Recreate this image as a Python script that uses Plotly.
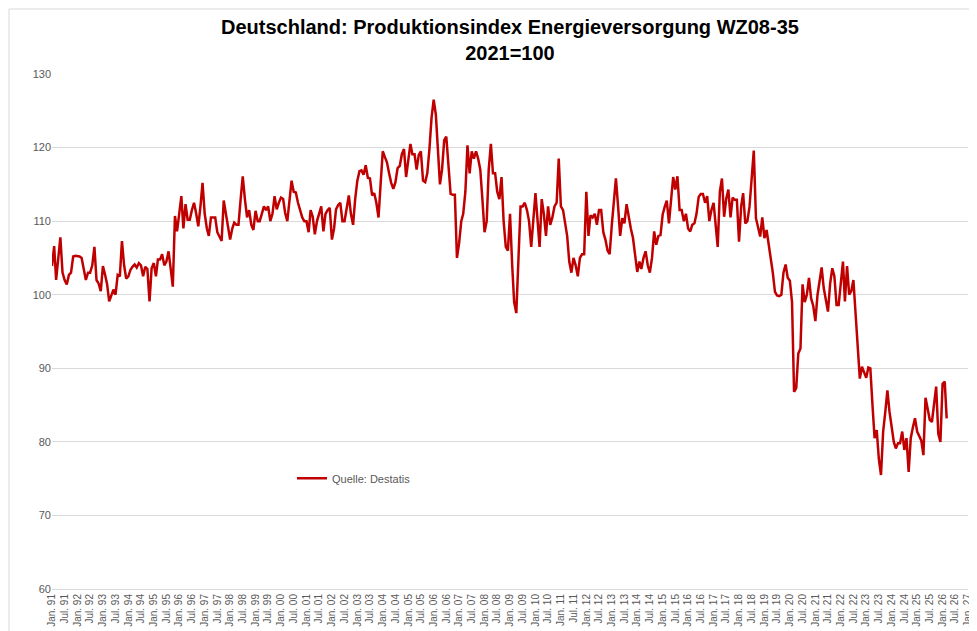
import plotly.graph_objects as go
import pandas as pd

values_by_year = {
    1991: [103.9,106.6,102,105,107.8,103,102,101.4,102.7,103,105.2,105.3],
    1992: [105.3,105.2,105,103.5,102,103,103,104,106.5,102,101.5,100.5],
    1993: [103.9,102.7,101.5,99.1,100,100.7,100,102.7,102.5,107.3,104,102.2],
    1994: [102.5,103.4,103.8,104.1,103.7,104.3,104,102.5,103.8,103.5,99.1,103.6],
    1995: [104.3,102.5,104.8,104.8,105.5,104,104.5,105.9,103.5,101.1,110.7,108.6],
    1996: [111,113.4,109,112.3,110.2,110.2,111.5,112.5,111,109.3,112,115.2],
    1997: [111,109,108,110.5,110.5,110.5,108.5,108,107.3,112.8,111,109.1],
    1998: [107.5,109,109.8,109.5,109.5,113,116.1,113,110.5,111.5,109.5,108.8],
    1999: [111.4,110,110,111,112,111.5,112,110,111,113.4,111.6,112.5],
    2000: [113.2,113,111.1,110,113,115.5,114,113.9,112.5,111.4,110.5,110],
    2001: [110,108.5,111.5,110.6,108.2,110,111.1,112,108.6,111,111.5,111.8],
    2002: [107.5,109,111.6,112.2,112.5,110,110,112,113.5,111,109.5,113],
    2003: [115.5,116.8,116.9,116.3,117.6,115.9,115.8,113.5,113.8,112.5,110.5,115],
    2004: [119.5,118.7,118,116.5,115.2,114.4,115.3,117.2,117.5,119.1,119.8,116],
    2005: [118,120.5,119.1,119.1,117,119,119.5,115.5,115.3,116.5,119.8,124],
    2006: [126.5,124.5,120,115,117,121,121.5,117,113.7,113.6,113.6,105],
    2007: [107,110,111,114,120.3,116.5,119.5,118.5,119.5,118.5,117,113],
    2008: [108.5,110,117,120.5,116.5,116.5,114,113,116,110,106.5,106],
    2009: [111,104,99,97.5,106,112,112,112.5,111.5,110,106.5,110],
    2010: [113.8,110,106.5,113,111,108,112,109.5,110.5,112,112.5,118.5],
    2011: [112,111.5,110,108,104.5,103,105,104,102.5,105,105.5,105.5],
    2012: [114,108,110.8,110.5,111,109.5,111.5,111.5,108.5,107.5,106,105.5],
    2013: [109.5,113,115.8,112,108,110.4,109.7,112.3,110.5,109,107.7,105.4],
    2014: [103.1,104.5,103.5,105,105.9,104,103,105,108.6,106.8,108,108.1],
    2015: [110.9,112,112.8,109.7,113,116,114.3,116.1,111.5,111.5,110,111],
    2016: [109,108.6,109.5,109.7,111,113.3,113.7,113.7,112.5,113.4,110,111.5],
    2017: [112.5,109,106.5,114,115.8,110.6,113,114.3,110.5,113.2,112.9,112.9],
    2018: [107.2,112,113.8,109.7,110,112,116.5,119.6,110.4,109,107.9,110.5],
    2019: [107.7,108.8,107,105.4,103,100.4,99.9,99.8,100,103,104.1,102.3],
    2020: [101.9,99,86.8,87.3,92,92.7,101.4,99,100,102.3,99.5,98.5],
    2021: [96.4,100,102,103.7,100.9,99,97.7,101.5,103.6,102.5,98.6,98.6],
    2022: [102,104.5,99.1,103.9,100,100.5,102,97.3,92,88.6,90.2,89.5],
    2023: [88.7,90.1,90,85,80.5,81.6,77.7,75.5,81.4,84,87,84.1],
    2024: [82,80,79.1,79.8,79.8,81.4,78.9,80.5,75.9,80.5,82,83.2],
    2025: [81.4,80.8,80.2,78.2,86,84.5,83,82.7,85,87.5,81.1,80],
    2026: [87.9,88.2,83.2],
}

values = [v for y in sorted(values_by_year) for v in values_by_year[y]]
dates = pd.date_range("1991-01-01", periods=len(values), freq="MS")

tick_dates = pd.date_range("1991-01-01", "2027-01-01", freq="6MS")
tick_labels = [("Jan. " if d.month == 1 else "Jul. ") + f"{d.year % 100:02d}" for d in tick_dates]

fig = go.Figure()
fig.add_trace(go.Scatter(x=dates, y=values, mode="lines", name="Quelle: Destatis",
                         line=dict(color="#C00000", width=2.5)))

fig.update_layout(
    width=977, height=631,
    paper_bgcolor="white", plot_bgcolor="white",
    margin=dict(l=44, r=17, t=66, b=50, autoexpand=False),
    font=dict(family="Liberation Sans, Arial, sans-serif", color="#595959", size=11),
    annotations=[dict(text="<b>Deutschland: Produktionsindex Energieversorgung WZ08-35<br>2021=100</b>",
                      xref="paper", yref="paper", x=0.5, y=1 + 60/515, xanchor="center", yanchor="top",
                      showarrow=False,
                      font=dict(size=20, color="black", family="Liberation Sans, Arial, sans-serif"))],
    showlegend=True,
    legend=dict(x=0.262, y=0.215, xanchor="left", yanchor="middle",
                bgcolor="rgba(0,0,0,0)", font=dict(size=11, color="#595959")),
    xaxis=dict(type="date", range=["1991-01-01", "2027-01-01"], automargin=False,
               tickmode="array", tickvals=list(tick_dates), ticktext=tick_labels,
               tickangle=-90, showgrid=False, showline=True, linecolor="#D9D9D9",
               ticks="", tickfont=dict(size=10, color="#595959")),
    yaxis=dict(range=[60, 130], dtick=10, showgrid=True, gridcolor="#D9D9D9", automargin=False,
               zeroline=False, showline=False, ticks="", tickfont=dict(size=11, color="#595959")),
    shapes=[dict(type="rect", xref="paper", yref="paper",
                 x0=-43/916, x1=1+16/916, y0=-49/515, y1=1+65/515,
                 line=dict(color="#D9D9D9", width=1))],
)

fig.write_html("out.html")
